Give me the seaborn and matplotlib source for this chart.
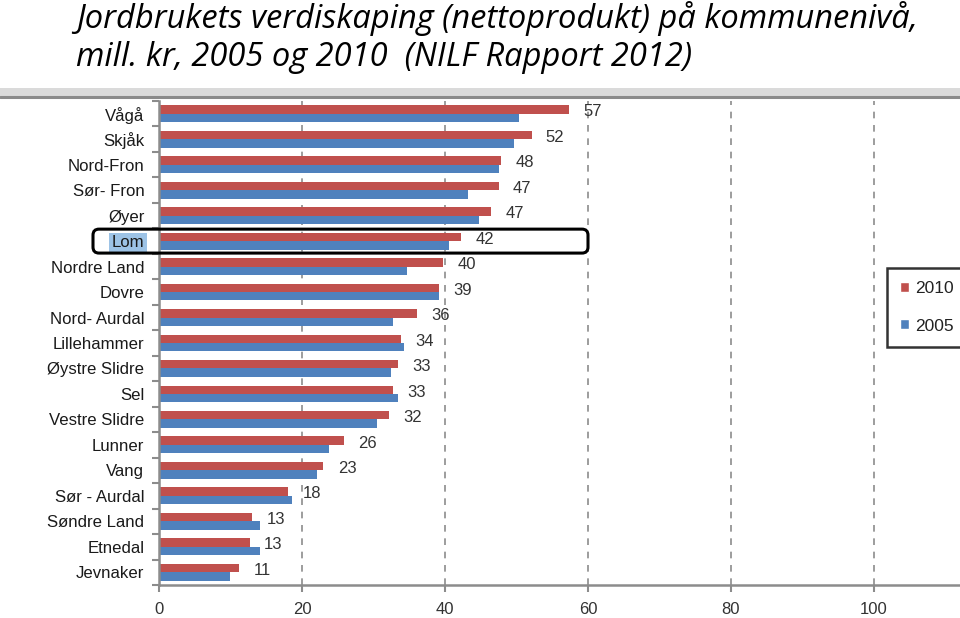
import matplotlib
matplotlib.use("Agg")
import matplotlib.pyplot as plt
import matplotlib.patches as mpatches
from matplotlib.ticker import FixedLocator
import seaborn as sns
import pandas as pd
import numpy as np

# ---- data ----
kommuner = ["Vågå", "Skjåk", "Nord-Fron", "Sør- Fron", "Øyer", "Lom",
            "Nordre Land", "Dovre", "Nord- Aurdal", "Lillehammer",
            "Øystre Slidre", "Sel", "Vestre Slidre", "Lunner", "Vang",
            "Sør - Aurdal", "Søndre Land", "Etnedal", "Jevnaker"]
verdi_2010 = [57.4, 52.1, 47.9, 47.5, 46.5, 42.3, 39.7, 39.2, 36.1, 33.9,
              33.4, 32.7, 32.1, 25.9, 23.0, 18.1, 13.0, 12.7, 11.2]
verdi_2005 = [50.3, 49.6, 47.6, 43.2, 44.8, 40.5, 34.7, 39.2, 32.7, 34.3,
              32.5, 33.4, 30.5, 23.8, 22.1, 18.6, 14.1, 14.1, 9.9]
etiketter_2010 = ["57", "52", "48", "47", "47", "42", "40", "39", "36", "34",
                  "33", "33", "32", "26", "23", "18", "13", "13", "11"]
aar = ["2010", "2005"]
x_ticks = [0, 20, 40, 60, 80, 100]
uthevet = "Lom"

title1 = "Jordbrukets verdiskaping (nettoprodukt) på kommunenivå,"
title2 = "mill. kr, 2005 og 2010  (NILF Rapport 2012)"

df = pd.DataFrame({
    "Kommune": kommuner * 2,
    "Verdi": verdi_2010 + verdi_2005,
    "År": [aar[0]] * len(kommuner) + [aar[1]] * len(kommuner),
})

RED = "#C0504D"
BLUE = "#4F81BD"

sns.set_theme(style="white")
plt.rcParams["font.family"] = ["Liberation Sans", "DejaVu Sans"]

W, H = 960, 618
fig = plt.figure(figsize=(W / 100, H / 100), dpi=100)
ax = fig.add_axes([159 / W, 1 - 585 / H, 1 - 159 / W, (585 - 101) / H])

BW = 0.66
sns.barplot(data=df, y="Kommune", x="Verdi", hue="År", order=kommuner,
            hue_order=aar, palette=[RED, BLUE], orient="h", width=BW,
            ax=ax, legend=False, saturation=1, linewidth=0,
            edgecolor="none")

ax.set_xlim(0, (W - 159) / 7.15)
ax.set_ylim(len(kommuner) - 0.5, -0.5)
ax.set_xlabel("")
ax.set_ylabel("")

# grid
ax.xaxis.set_major_locator(FixedLocator(x_ticks))
ax.grid(axis="x", color="#8c8c8c", linestyle=(0, (4, 4)), linewidth=1.2)
ax.set_axisbelow(True)
ax.grid(axis="y", visible=False)

for s in ["top", "right"]:
    ax.spines[s].set_visible(False)
for s in ["left", "bottom"]:
    ax.spines[s].set_color("#8c8c8c")
    ax.spines[s].set_linewidth(1.8)

ax.tick_params(axis="x", which="major", direction="out", length=5,
               width=1.5, color="#8c8c8c", labelsize=12, labelcolor="#333333",
               pad=7, bottom=True)
ax.tick_params(axis="y", which="major", length=0, labelsize=12.1,
               labelcolor="#1a1a1a", pad=10.5)
ax.yaxis.set_minor_locator(FixedLocator(np.arange(-0.5, len(kommuner), 1.0)))
ax.tick_params(axis="y", which="minor", direction="out", length=5,
               width=1.5, color="#8c8c8c", left=True)

# highlight Lom tick label
for lab in ax.get_yticklabels():
    if lab.get_text() == uthevet:
        lab.set_bbox(dict(facecolor="#9DC3E6", edgecolor="none",
                          boxstyle="square,pad=0.15"))

# value labels for 2010
bar_off = BW / 4
for i, (v, t) in enumerate(zip(verdi_2010, etiketter_2010)):
    ax.text(v + 2.0, i - bar_off * 0.45, t, ha="left", va="center",
            fontsize=12, color="#333333")

# rounded rectangle around Lom
li = kommuner.index(uthevet)
x0d, y0d = ax.transData.transform((0, li - 0.47))
x1d, y1d = ax.transData.transform((60, li + 0.47))
x0d = 93 / W * fig.bbox.width  # start at left edge of label column
rect = mpatches.FancyBboxPatch((x0d, min(y0d, y1d)), x1d - x0d,
                               abs(y1d - y0d),
                               boxstyle="round,pad=0,rounding_size=6",
                               transform=None, fill=False,
                               edgecolor="black", linewidth=2.2,
                               clip_on=False, zorder=10)
fig.patches.append(rect)

# grey band on top
fig.patches.append(mpatches.Rectangle((0, 1 - 96 / H), 1, 8 / H,
                                      transform=fig.transFigure,
                                      facecolor="#dadada", edgecolor="none"))
fig.add_artist(plt.Line2D([0, 1], [1 - 96.5 / H, 1 - 96.5 / H],
                          transform=fig.transFigure, color="#8a8a8a",
                          linewidth=2.2))

# legend (partially clipped at right edge like the original)
handles = [mpatches.Patch(facecolor=RED, label=aar[0]),
           mpatches.Patch(facecolor=BLUE, label=aar[1])]
leg = fig.legend(handles=handles, loc="upper left",
                 bbox_to_anchor=(887 / W, 1 - 268 / H),
                 bbox_transform=fig.transFigure, fontsize=12.5,
                 frameon=True, fancybox=False, edgecolor="black",
                 handlelength=0.5, handleheight=0.5, handletextpad=0.35,
                 labelspacing=1.3, borderpad=0.75, borderaxespad=0)
leg.get_frame().set_linewidth(1.8)
for t in leg.get_texts():
    t.set_color("#222222")

# title
for txt, yb in [(title1, 28), (title2, 66)]:
    fig.text(76 / W, 1 - yb / H, txt, fontsize=23.5, style="italic",
             family=["Open Sans", "DejaVu Sans"], va="baseline", ha="left",
             color="black")

fig.savefig("out.png", dpi=100)
